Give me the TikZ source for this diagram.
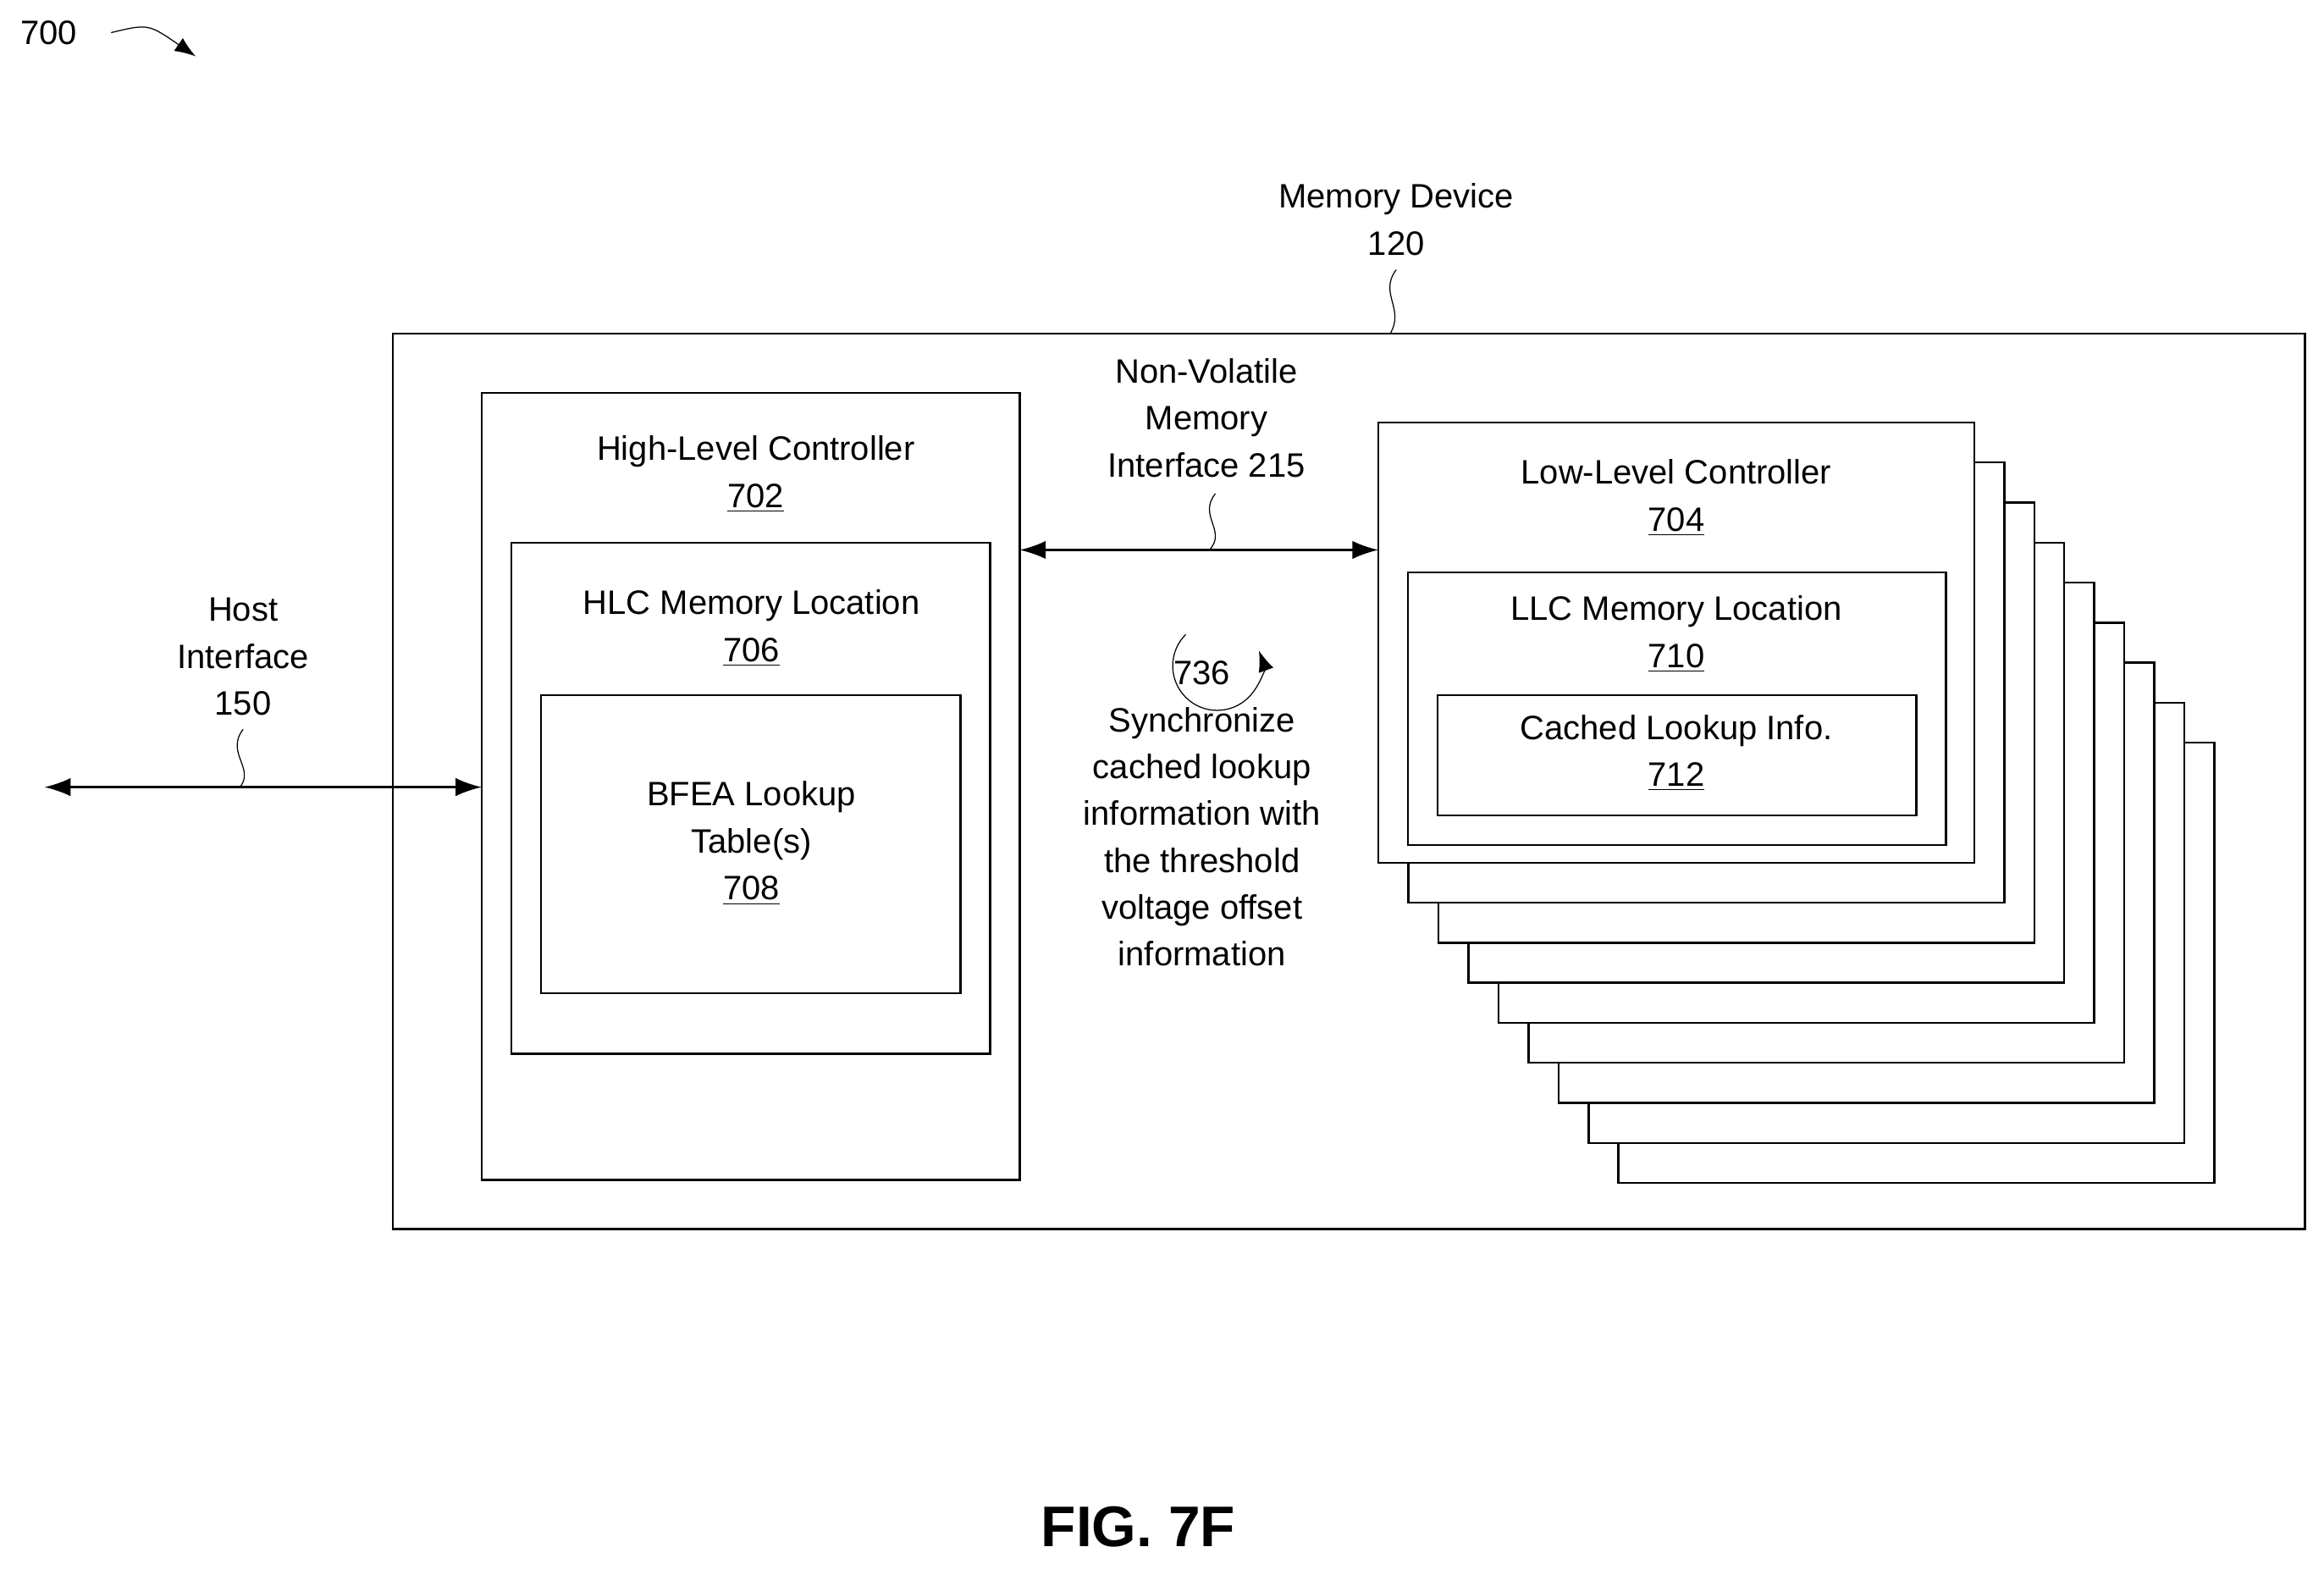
\documentclass[tikz,border=0pt]{standalone}
\usepackage{fontspec}
\setmainfont{Liberation Sans}
\usetikzlibrary{arrows.meta}
\tikzset{
  box/.style={draw,thick,fill=white},
  lbl/.style={align=center,font=\fontsize{13}{18}\selectfont},
  dbl/.style={thick,{Latex[length=10pt,width=7pt]}-{Latex[length=10pt,width=7pt]}},
  squig/.style={thin}
}
\begin{document}
\begin{tikzpicture}[x=0.02cm,y=-0.02cm]
  \useasboundingbox (0,0) rectangle (1568,1058);

  \node (FIGN) at (33,22) [lbl] {700};
  \draw[thin,-{Latex[length=8pt,width=6pt]}] (75,22) .. controls (100,16) .. (132,38);

  % memory device
  \draw[box] (265,225) rectangle (1555,829);
  \node (MDEV) at (942,148) [lbl] {Memory Device\\120};
  \draw[squig] (942,182) .. controls (930,198) and (948,208) .. (938,225);

  % high level controller
  \draw[box] (325,265) rectangle (688,796);
  \node (HLC) at (510,320) [lbl] {High-Level Controller\\\underline{702}};
  \draw[box] (345,366) rectangle (668,711);
  \node (HLCM) at (507,424) [lbl] {HLC Memory Location\\\underline{706}};
  \draw[box] (365,469) rectangle (648,670);
  \node (BFEA) at (507,569) [lbl] {BFEA Lookup\\Table(s)\\\underline{708}};

  % host interface
  \coordinate (HOSTL) at (30,531);
  \coordinate (HOSTR) at (325,531);
  \draw[dbl] (HOSTL) -- (HOSTR);
  \node (HOST) at (164,443) [lbl] {Host\\Interface\\150};
  \draw[squig] (164,492) .. controls (152,508) and (172,518) .. (162,531);

  % low level controller stack
  \foreach \i in {8,7,...,1}
    \draw[box] (930+20.25*\i,285+27*\i) rectangle (1332+20.25*\i,582+27*\i);
  \draw[box] (930,285) rectangle (1332,582);
  \node (LLC) at (1131,336) [lbl] {Low-Level Controller\\\underline{704}};
  \draw[box] (950,386) rectangle (1313,570);
  \node (LLCM) at (1131,428) [lbl] {LLC Memory Location\\\underline{710}};
  \draw[box] (970,469) rectangle (1293,550);
  \node (CLI) at (1131,508) [lbl] {Cached Lookup Info.\\\underline{712}};

  % non-volatile memory interface
  \coordinate (NVML) at (688,371);
  \coordinate (NVMR) at (930,371);
  \draw[dbl] (NVML) -- (NVMR);
  \node (NVM) at (814,282) [lbl] {Non-Volatile\\Memory\\Interface 215};
  \draw[squig] (820,333) .. controls (808,348) and (828,358) .. (816,371);

  % synchronize
  \draw[thin,-{Latex[length=8pt,width=6pt]}] (800,428) arc[start angle=225,end angle=-20,radius=30];
  \node (SYNC) at (811,549) [lbl] {736\\Synchronize\\cached lookup\\information with\\the threshold\\voltage offset\\information};

  \node (FIG) at (768,1030) [font=\fontsize{22}{26}\selectfont\bfseries] {FIG. 7F};
\end{tikzpicture}
\end{document}
